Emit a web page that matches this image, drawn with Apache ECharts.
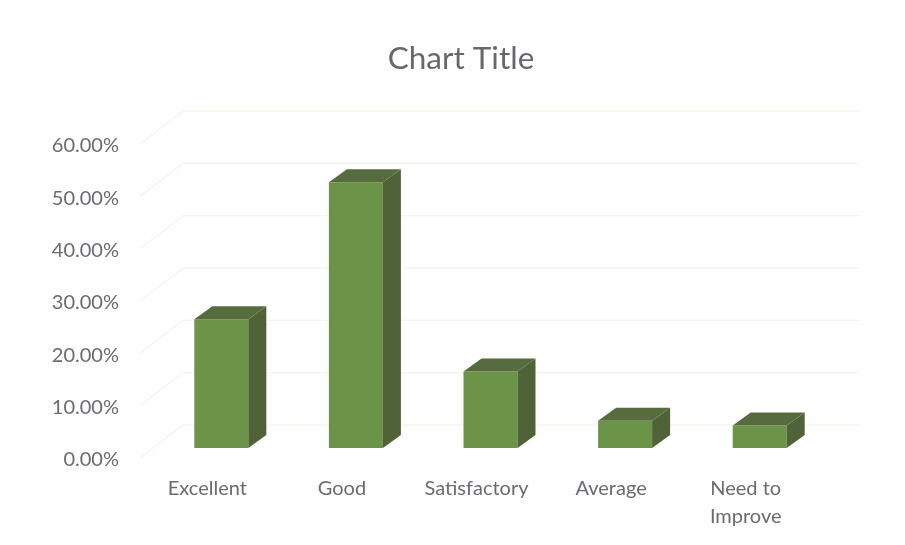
<!DOCTYPE html>
<html><head><meta charset="utf-8">
<style>html,body{margin:0;padding:0;background:#fefefe}#c{width:905px;height:545px}</style>
<script src="https://cdn.jsdelivr.net/npm/echarts@6/dist/echarts.min.js"></script>
</head><body><div id="c"></div>
<script>
const categories = ["Excellent","Good","Satisfactory","Average","Need to\nImprove"];
const percentValues = [24.6, 50.8, 14.6, 5.2, 4.3];
const gridTicks = [0,10,20,30,40,50,60];

const FONT = 'Lato,"Open Sans",sans-serif';
const chart = echarts.init(document.getElementById('c'), null, {renderer:'canvas'});

function renderWall(params, api){
  const v = api.value(0);
  const p = api.coord([0, v]);
  const left = params.coordSys.x;
  const right = left + params.coordSys.width;
  const dx = 43, dy = -33;
  return {type:'polyline', silent:true, shape:{points:[[left,p[1]],[left+dx,p[1]+dy],[right+47,p[1]+dy]]},
    style:{fill:null, stroke:'#f6f6f0', lineWidth:1.5}};
}
function renderBar(params, api){
  const i = api.value(0), v = api.value(1);
  const p = api.coord([i, v]);
  const b = api.coord([i, 0]);
  const w = 54, shiftX = 14, shiftY = -10, dx = 18, dy = -13;
  const x0 = p[0] + shiftX - w/2, x1 = x0 + w;
  const top = p[1] + shiftY, base = b[1] + shiftY;
  return {type:'group', children:[
    {type:'polygon', shape:{points:[[x0,base],[x1,base],[x1,top],[x0,top]]}, style:{fill:'#6c9448'}},
    {type:'polygon', shape:{points:[[x1,base],[x1+dx,base+dy],[x1+dx,top+dy],[x1,top]]}, style:{fill:'#4f6238'}},
    {type:'polygon', shape:{points:[[x0,top],[x1,top],[x1+dx,top+dy],[x0+dx,top+dy]]}, style:{fill:'#566c3e'}}
  ]};
}
chart.setOption({
  animation:false,
  backgroundColor:'#fefefe',
  title:{text:'Chart Title', left:456, top:38, textAlign:'center',
    textStyle:{fontFamily:FONT, fontSize:31.5, fontWeight:'normal', color:'#67686c'}},
  grid:{left:140, right:92, top:144, bottom:87},
  xAxis:{type:'category', data:categories,
    axisLine:{show:false}, axisTick:{show:false}, splitLine:{show:false},
    axisLabel:{fontFamily:FONT, fontSize:20, color:'#6b6b70', margin:17, lineHeight:28, interval:0}},
  yAxis:{type:'value', min:0, max:60, interval:10,
    axisLine:{show:false}, axisTick:{show:false}, splitLine:{show:false},
    axisLabel:{fontFamily:FONT, fontSize:20, color:'#6b6b70', margin:21, verticalAlign:'top', lineHeight:4,
      formatter:v=>v.toFixed(2)+'%'}},
  series:[
    {type:'custom', renderItem:renderWall, data:gridTicks.map(v=>[v]), encode:{y:0}, clip:false, silent:true, z:1},
    {type:'custom', renderItem:renderBar, data:percentValues.map((v,i)=>[i,v]), encode:{x:0,y:1}, clip:false, z:2}
  ]
});
</script></body></html>
